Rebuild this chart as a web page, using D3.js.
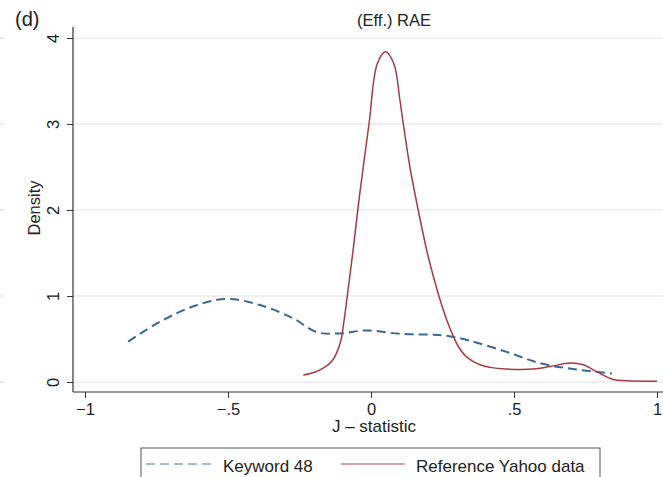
<!DOCTYPE html>
<html><head><meta charset="utf-8">
<script src="https://cdn.jsdelivr.net/npm/d3@7/dist/d3.min.js"></script>
<style>html,body{margin:0;padding:0;background:#fff}svg{display:block}text{font-family:"Liberation Sans",Arial,Helvetica,sans-serif;fill:#222}</style>
</head><body>
<svg id="c" width="663" height="477"></svg>
<script>
// Data
const keywordX = [-0.849,-0.738,-0.621,-0.505,-0.388,-0.272,-0.19,-0.108,-0.015,0.101,0.206,0.26,0.346,0.474,0.59,0.707,0.842];
const keywordY = [0.47,0.70,0.88,0.965,0.895,0.74,0.58,0.565,0.60,0.56,0.55,0.54,0.48,0.35,0.22,0.15,0.10];
const yahooX = [-0.237,-0.2,-0.167,-0.135,-0.108,-0.094,-0.083,-0.062,-0.042,-0.007,0.022,0.051,0.08,0.101,0.113,0.136,0.165,0.197,0.222,0.242,0.265,0.288,0.306,0.335,0.381,0.416,0.474,0.567,0.626,0.696,0.742,0.789,0.847,0.894,1.0];
const yahooY = [0.08,0.11,0.16,0.25,0.45,0.72,1.0,1.55,2.12,3.0,3.7,3.84,3.7,3.28,3.0,2.5,2.0,1.5,1.18,0.95,0.72,0.53,0.41,0.29,0.20,0.17,0.15,0.15,0.18,0.22,0.20,0.12,0.03,0.015,0.01];
const xTicks = [-1,-0.5,0,0.5,1];
const xTickLabels = ["\u22121","\u2212.5","0",".5","1"];
const yTicks = [0,1,2,3,4];
const seriesNames = ["Keyword 48","Reference Yahoo data"];
const titleText = "(Eff.) RAE";
const panelLabel = "(d)";
const xTitle = "J \u2013 statistic";
const yTitle = "Density";

(function(){
const svg = d3.select("#c");
const x = d3.scaleLinear().domain([-1,1]).range([85,657]);
const y = d3.scaleLinear().domain([0,4]).range([382,38]);
const pL = 73, pR = 663, pT = 27, pB = 392;
const blue = "#3b6893", red = "#a63a45";
const fs = 16.5;

svg.append("g").selectAll("line").data(yTicks).join("line")
  .attr("x1",0).attr("x2",4).attr("y1",d=>y(d)).attr("y2",d=>y(d))
  .attr("stroke","#ddd").attr("stroke-width",1.2);

svg.append("g").selectAll("line").data(yTicks).join("line")
  .attr("x1",pL).attr("x2",pR).attr("y1",d=>y(d)).attr("y2",d=>y(d))
  .attr("stroke","#ebebeb").attr("stroke-width",1.5);

const ya = svg.append("g").attr("transform",`translate(${pL},0)`)
  .call(d3.axisLeft(y).tickValues(yTicks).tickSize(6).tickFormat(d3.format("d")));
ya.select(".domain").remove();
ya.selectAll(".tick line").attr("stroke","#333");
ya.selectAll(".tick text").attr("font-size",fs).attr("fill","#222")
  .attr("text-anchor","middle").attr("dy",null).attr("x",null)
  .attr("transform","translate(-14,0) rotate(-90)");
svg.append("line").attr("x1",pL).attr("x2",pL).attr("y1",pT).attr("y2",pB)
  .attr("stroke","#333").attr("stroke-width",1.2);

const xa = svg.append("g").attr("transform",`translate(0,${pB})`)
  .call(d3.axisBottom(x).tickValues(xTicks).tickSize(6).tickFormat((d,i)=>xTickLabels[i]));
xa.select(".domain").remove();
xa.selectAll(".tick line").attr("stroke","#333");
xa.selectAll(".tick text").attr("font-size",fs).attr("fill","#222").attr("y",23).attr("dy",null);
svg.append("line").attr("x1",pL).attr("x2",pR).attr("y1",pB).attr("y2",pB)
  .attr("stroke","#333").attr("stroke-width",1.2);

const line = d3.line().x(d=>x(d[0])).y(d=>y(d[1])).curve(d3.curveCatmullRom.alpha(0.5));
svg.append("path").datum(keywordX.map((v,i)=>[v,keywordY[i]]))
  .attr("d",line).attr("fill","none").attr("stroke",blue).attr("stroke-width",2)
  .attr("stroke-dasharray","9,5");
svg.append("path").datum(yahooX.map((v,i)=>[v,yahooY[i]]))
  .attr("d",line).attr("fill","none").attr("stroke",red).attr("stroke-width",1.5);

svg.append("text").attr("x",394).attr("y",26).attr("text-anchor","middle").attr("font-size",fs).text(titleText);
svg.append("text").attr("x",15).attr("y",26).attr("font-size",20).text(panelLabel);
svg.append("text").attr("x",374).attr("y",432).attr("text-anchor","middle").attr("font-size",fs+0.5).text(xTitle);
svg.append("text").attr("transform","translate(40,208) rotate(-90)").attr("text-anchor","middle").attr("font-size",fs).text(yTitle);

svg.append("rect").attr("x",141).attr("y",448).attr("width",459).attr("height",40)
  .attr("fill","#fff").attr("stroke","#555").attr("stroke-width",1);
svg.append("line").attr("x1",146).attr("x2",212).attr("y1",464).attr("y2",464)
  .attr("stroke",blue).attr("stroke-width",1.3).attr("stroke-dasharray","9,5").attr("opacity",0.6);
svg.append("text").attr("x",223).attr("y",471.5).attr("font-size",17).text(seriesNames[0]);
svg.append("line").attr("x1",341).attr("x2",405).attr("y1",464).attr("y2",464)
  .attr("stroke",red).attr("stroke-width",1.3).attr("opacity",0.6);
svg.append("text").attr("x",416).attr("y",471.5).attr("font-size",17).text(seriesNames[1]);
})();
</script>
</body></html>
